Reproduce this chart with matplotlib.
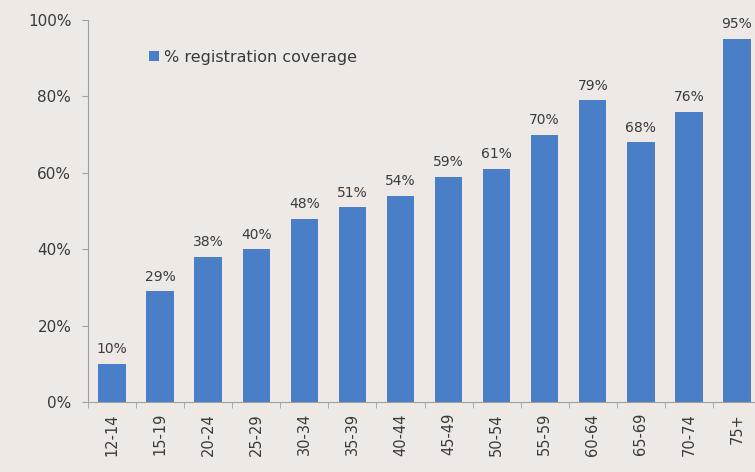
import numpy as np
import matplotlib.pyplot as plt
from matplotlib.ticker import PercentFormatter, FixedLocator

age_groups = ['12-14', '15-19', '20-24', '25-29', '30-34', '35-39', '40-44',
              '45-49', '50-54', '55-59', '60-64', '65-69', '70-74', '75+']
coverage = [10, 29, 38, 40, 48, 51, 54, 59, 61, 70, 79, 68, 76, 95]

bg = '#efe9e6'
bar_color = '#4a7ec6'
text_color = '#3a3a3a'

fig = plt.figure(figsize=(7.55, 4.72), dpi=100, facecolor=bg)
ax = fig.add_axes([88 / 755, 70 / 472, 673 / 755, 382 / 472], facecolor=bg)

x = np.arange(len(age_groups))
bars = ax.bar(x, coverage, width=0.57, color=bar_color, label='% registration coverage')

# value labels above each bar
for xi, v in zip(x, coverage):
    ax.text(xi, v + 2, f'{v}%', ha='center', va='bottom', fontsize=10, color=text_color)

ax.set_xlim(-0.5, len(age_groups) - 0.5)
ax.set_ylim(0, 100)
ax.set_yticks(range(0, 101, 20))
ax.yaxis.set_major_formatter(PercentFormatter(decimals=0))
ax.set_xticks(x)
ax.set_xticklabels(age_groups, rotation=90, fontsize=10.5, color=text_color)
ax.tick_params(axis='x', length=0, pad=8)
ax.xaxis.set_minor_locator(FixedLocator(np.arange(-0.5, len(age_groups), 1)))
ax.tick_params(axis='x', which='minor', length=4, color='#a0a0a0')
ax.tick_params(axis='y', labelsize=11, labelcolor=text_color, length=4, color='#a0a0a0', pad=8)

for side in ['top', 'right']:
    ax.spines[side].set_visible(False)
for side in ['left', 'bottom']:
    ax.spines[side].set_color('#a0a0a0')

ax.legend(loc='upper left', bbox_to_anchor=(0.07, 0.96), frameon=False,
          fontsize=11.5, handlelength=0.6, handleheight=0.6, handletextpad=0.3,
          labelcolor=text_color)

fig.savefig('out.png', dpi=100, facecolor=bg)
